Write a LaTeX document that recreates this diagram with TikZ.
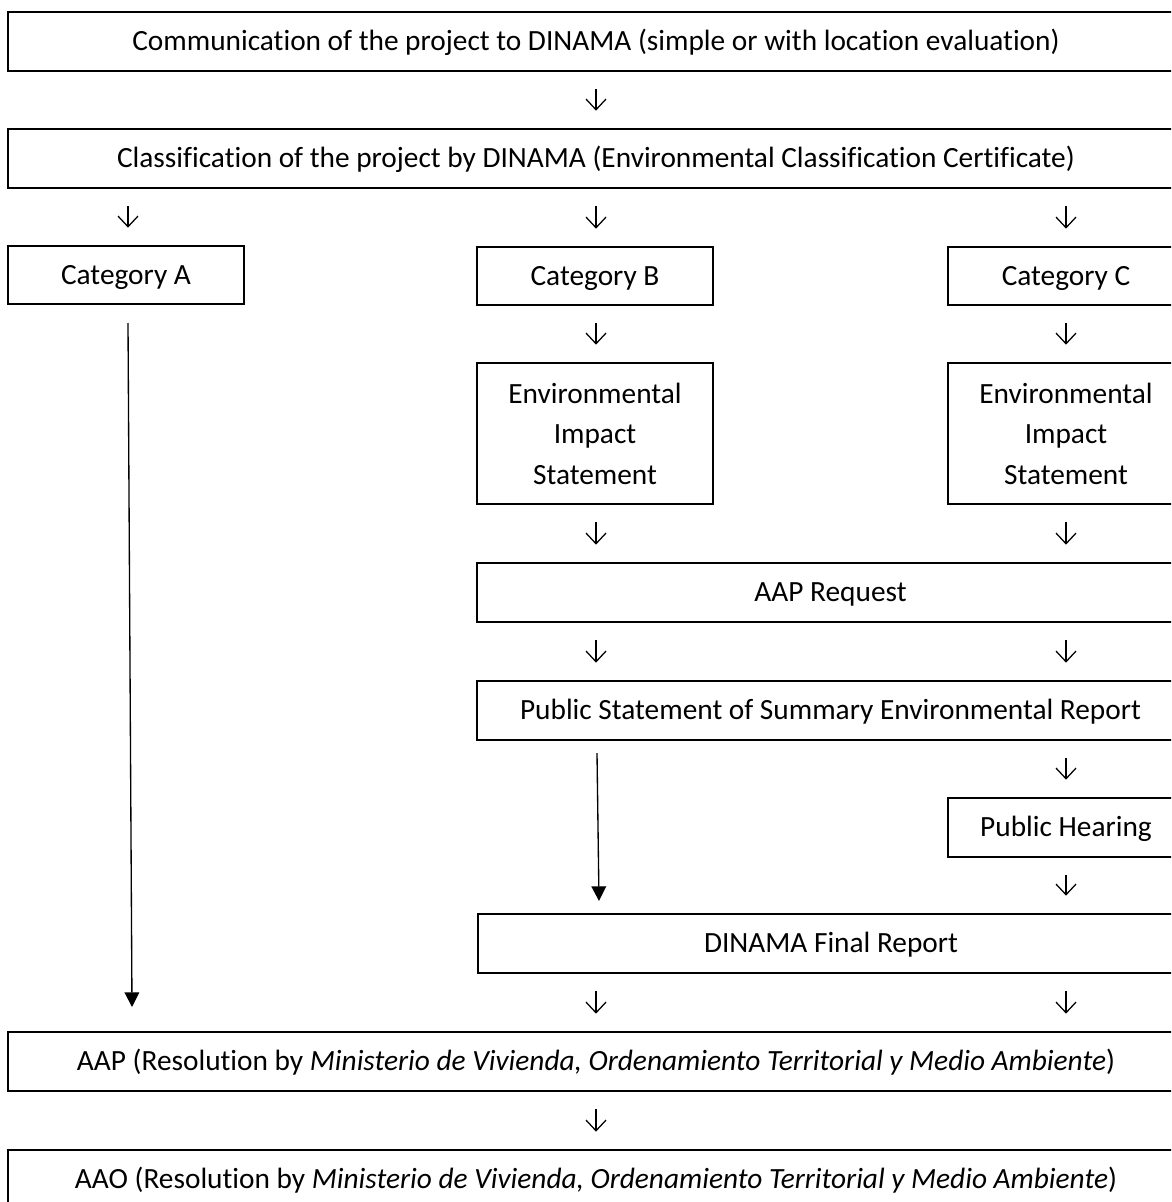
\documentclass[tikz,border=0pt]{standalone}
\usepackage{fontspec}
\setmainfont{Carlito}[Ligatures=NoCommon]
\usetikzlibrary{arrows.meta,calc}
\begin{document}
\begin{tikzpicture}[x=0.75pt,y=-0.75pt,
  box/.style={draw, line width=1.5pt, inner sep=0pt, align=center,
    font=\fontsize{22pt}{30.4pt}\selectfont},
  onebox/.style={box, text height=13.5pt, text depth=0pt},
  glyph/.style={line width=0.95pt, shorten <=13pt, shorten >=13pt,
    -{Straight Barb[length=8pt,width=15pt,line width=0.95pt]}},
  longarrow/.style={line width=1pt, -{Triangle[length=11pt,width=11pt]}}]
\useasboundingbox (0,0) rectangle (1171,1202);
\clip (0,0) rectangle (1171,1202);
% boxes
\node[onebox, minimum width=1176*0.75pt, minimum height=59*0.75pt] (b1) at (596,41.5)
  {Communication of the project to DINAMA (simple or with location evaluation)};
\node[onebox, minimum width=1176*0.75pt, minimum height=59*0.75pt] (b2) at (596,158.5)
  {Classification of the project by DINAMA (Environmental Classification Certificate)};
\node[onebox, minimum width=236*0.75pt, minimum height=58*0.75pt] (catA) at (126,275) {Category A};
\node[onebox, minimum width=236*0.75pt, minimum height=58*0.75pt] (catB) at (595,276) {Category B};
\node[onebox, minimum width=236*0.75pt, minimum height=58*0.75pt] (catC) at (1066,276) {Category C};
\node[box, minimum width=236*0.75pt, minimum height=141*0.75pt] (eisB) at (595,433.5)
  {Environmental\\Impact\\Statement};
\node[box, minimum width=236*0.75pt, minimum height=141*0.75pt] (eisC) at (1066,433.5)
  {Environmental\\Impact\\Statement};
\node[onebox, minimum width=707*0.75pt, minimum height=59*0.75pt] (req) at (830.5,592.5) {AAP Request};
\node[onebox, minimum width=707*0.75pt, minimum height=59*0.75pt] (pub) at (830.5,710.5)
  {Public Statement of Summary Environmental Report};
\node[onebox, minimum width=236*0.75pt, minimum height=59*0.75pt] (ph) at (1066,827.5) {Public Hearing};
\node[onebox, minimum width=706*0.75pt, minimum height=59*0.75pt] (dfr) at (831,943.5) {DINAMA Final Report};
\node[onebox, minimum width=1176*0.75pt, minimum height=59*0.75pt] (aap) at (596,1061.5)
  {AAP (Resolution by \textit{Ministerio de Vivienda, Ordenamiento Territorial y Medio Ambiente})};
\node[onebox, minimum width=1176*0.75pt, minimum height=59*0.75pt] (aao) at (596,1179.5)
  {AAO (Resolution by \textit{Ministerio de Vivienda, Ordenamiento Territorial y Medio Ambiente})};
% glyph-like arrows
\draw[glyph] (b1.south) -- (b2.north);
\draw[glyph] ($(catA.north |- b2.south)+(2,0)$) -- ($(catA.north)+(2,0)$);
\draw[glyph] ($(catB.north |- b2.south)+(1,0)$) -- ($(catB.north)+(1,0)$);
\draw[glyph] (catC.north |- b2.south) -- (catC.north);
\draw[glyph] ($(catB.south)+(1,0)$) -- ($(eisB.north)+(1,0)$);
\draw[glyph] (catC.south) -- (eisC.north);
\draw[glyph] ($(eisB.south)+(1,0)$) -- ($(eisB.south |- req.north)+(1,0)$);
\draw[glyph] (eisC.south) -- (eisC.south |- req.north);
\draw[glyph] ($(eisB.south |- req.south)+(1,0)$) -- ($(eisB.south |- pub.north)+(1,0)$);
\draw[glyph] (eisC.south |- req.south) -- (eisC.south |- pub.north);
\draw[glyph] (ph.north |- pub.south) -- (ph.north);
\draw[glyph] (ph.south) -- (ph.south |- dfr.north);
\draw[glyph] ($(eisB.south |- dfr.south)+(1,0)$) -- ($(eisB.south |- aap.north)+(1,0)$);
\draw[glyph] (ph.south |- dfr.south) -- (ph.south |- aap.north);
\draw[glyph] (aap.south) -- (aao.north);
% long connectors
\coordinate (aS) at ($(catA.south)+(2,18)$);
\coordinate (aE) at (132,1007);
\draw[longarrow] (aS) -- (aE);
\coordinate (bS) at (597,753);
\coordinate (bE) at (599,901);
\draw[longarrow] (bS) -- (bE);
\end{tikzpicture}
\end{document}
